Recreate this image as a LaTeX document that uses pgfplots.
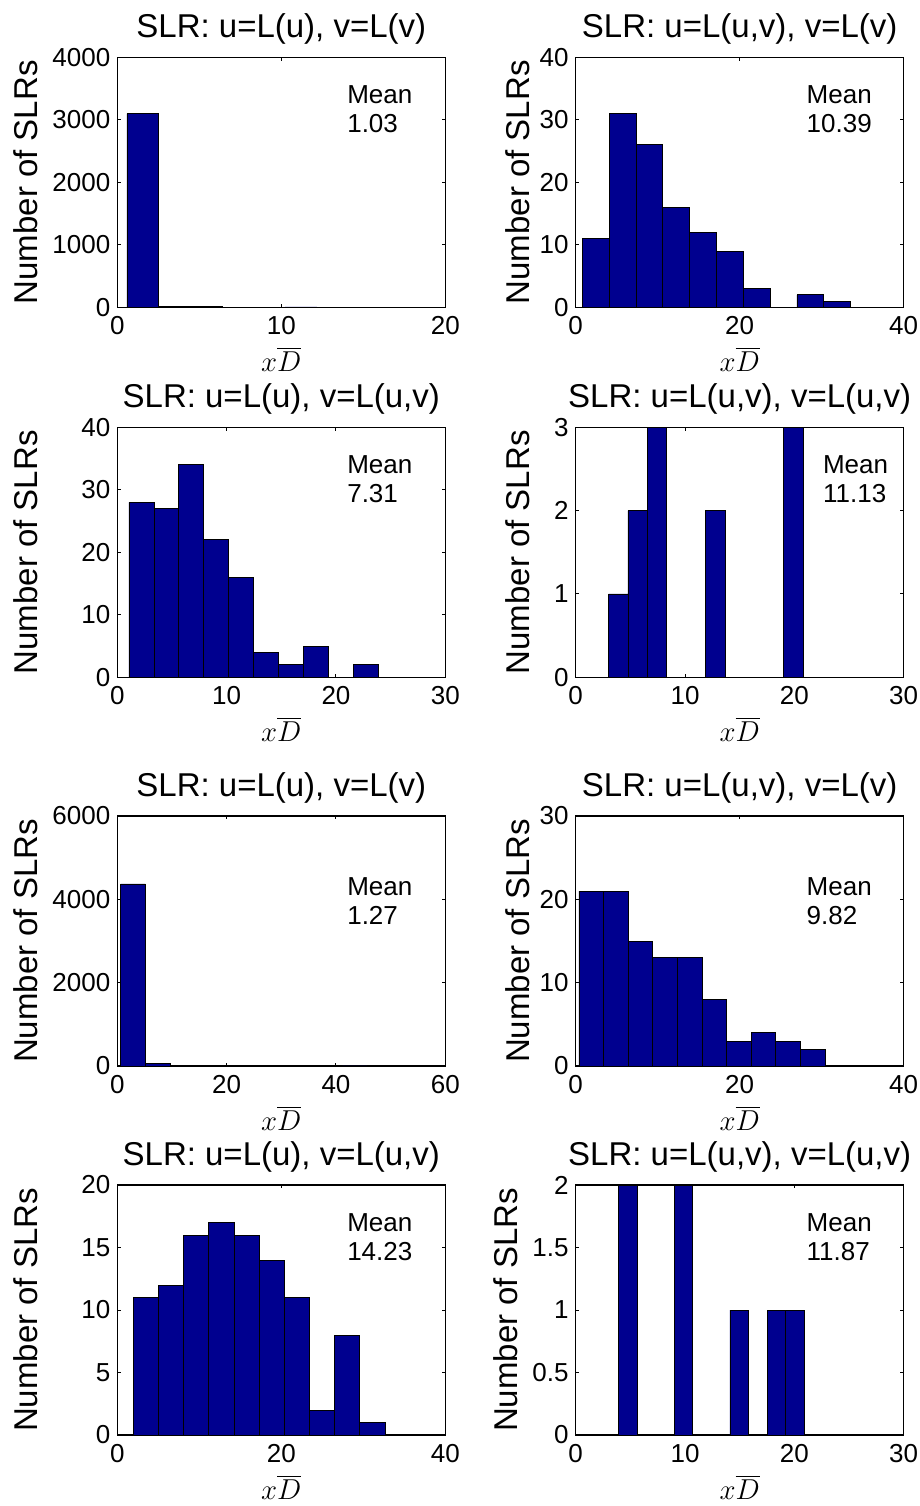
\documentclass[border=0pt]{standalone}
\usepackage{fontspec}
\setmainfont{Liberation Sans}
\usepackage{pgfplots}
\pgfplotsset{compat=1.18}
\definecolor{histblue}{RGB}{0,0,143}

\tikzset{meanbox/.style={anchor=north west, inner sep=0pt, align=left, font=\fontsize{13}{14.5}\selectfont}}

\pgfplotsset{
  slr/.style={
    scale only axis, width=164pt, height=125pt,
    anchor=north west,
    axis line style={line width=0.7pt},
    tick align=inside, major tick length=1.7pt,
    tick style={black, line width=0.5pt},
    scaled ticks=false,
    /pgf/number format/1000 sep={},
    /pgf/number format/assume math mode=true,
    ticklabel style={font=\fontsize{13}{13}\selectfont},
    xticklabel style={yshift=-1pt},
    title style={font=\fontsize{16.5}{16.5}\selectfont, at={(axis description cs:0.5,1)}, anchor=base, yshift=4pt},
    ylabel style={font=\fontsize{16.5}{16.5}\selectfont, anchor=base},
    xlabel style={font=\fontsize{14}{14}\selectfont, at={(axis description cs:0.5,-0.256)}, anchor=base},
    ylabel={Number of SLRs},
    xlabel={$x\overline{D}$},
    ymin=0,
  },
  leftcol/.style={ylabel style={at={(axis description cs:-0.244,0.5)}}},
  rightcol/.style={ylabel style={at={(axis description cs:-0.142,0.5)}}},
  bars/.style={ybar interval, fill=histblue, draw=black, line width=0.4pt},
}

\begin{document}
\begin{tikzpicture}
\useasboundingbox (0,0) rectangle (460pt,-753pt);

% row 1 left
\begin{axis}[slr, leftcol, at={(58.65pt,-28.65pt)},
  title={SLR: u=L(u), v=L(v)},
  xmin=0, xmax=20, ymax=4000, xtick={0,10,20}, ytick={0,1000,2000,3000,4000}]
\addplot[bars] coordinates {(0.59,3100) (2.52,15) (4.45,12) (6.38,2) (8.31,2) (10.24,6) (12.17,1) (14.10,1) (16.03,1) (17.96,1) (19.89,1)};
\node[meanbox] at (rel axis cs:0.70,0.889) {Mean\\1.03};
\end{axis}

% row 1 right
\begin{axis}[slr, rightcol, at={(287.85pt,-28.65pt)},
  title={SLR: u=L(u,v), v=L(v)},
  xmin=0, xmax=40, ymax=40, xtick={0,20,40}, ytick={0,10,20,30,40}]
\addplot[bars] coordinates {(0.82,11) (4.09,31) (7.36,26) (10.63,16) (13.90,12) (17.17,9) (20.44,3) (23.71,0) (26.98,2) (30.25,1) (33.52,1)};
\node[meanbox] at (rel axis cs:0.703,0.889) {Mean\\10.39};
\end{axis}

% row 2 left
\begin{axis}[slr, leftcol, at={(58.65pt,-213.65pt)},
  title={SLR: u=L(u), v=L(u,v)},
  xmin=0, xmax=30, ymax=40, xtick={0,10,20,30}, ytick={0,10,20,30,40}]
\addplot[bars] coordinates {(1.07,28) (3.35,27) (5.63,34) (7.91,22) (10.19,16) (12.47,4) (14.75,2) (17.03,5) (19.31,0) (21.59,2) (23.87,2)};
\node[meanbox] at (rel axis cs:0.70,0.889) {Mean\\7.31};
\end{axis}

% row 2 right
\begin{axis}[slr, rightcol, at={(287.85pt,-213.65pt)},
  title={SLR: u=L(u,v), v=L(u,v)},
  xmin=0, xmax=30, ymax=3, xtick={0,10,20,30}, ytick={0,1,2,3}]
\addplot[bars] coordinates {(3.00,1) (4.78,2) (6.56,3) (8.34,0) (10.12,0) (11.90,2) (13.68,0) (15.46,0) (17.24,0) (19.02,3) (20.80,3)};
\node[meanbox] at (rel axis cs:0.753,0.889) {Mean\\11.13};
\end{axis}

% row 3 left
\begin{axis}[slr, leftcol, at={(58.65pt,-408pt)},
  title={SLR: u=L(u), v=L(v)},
  xmin=0, xmax=60, ymax=6000, xtick={0,20,40,60}, ytick={0,2000,4000,6000}]
\addplot[bars] coordinates {(0.62,4370) (5.13,70) (9.64,20) (14.15,12) (18.66,15) (23.17,5) (27.68,0) (32.19,0) (36.70,0) (41.21,1) (45.72,1)};
\node[meanbox] at (rel axis cs:0.70,0.757) {Mean\\1.27};
\end{axis}

% row 3 right
\begin{axis}[slr, rightcol, at={(287.85pt,-408pt)},
  title={SLR: u=L(u,v), v=L(v)},
  xmin=0, xmax=40, ymax=30, xtick={0,20,40}, ytick={0,10,20,30}]
\addplot[bars] coordinates {(0.4,21) (3.4,21) (6.4,15) (9.4,13) (12.4,13) (15.4,8) (18.4,3) (21.4,4) (24.4,3) (27.4,2) (30.4,2)};
\node[meanbox] at (rel axis cs:0.703,0.757) {Mean\\9.82};
\end{axis}

% row 4 left
\begin{axis}[slr, leftcol, at={(58.65pt,-592.5pt)},
  title={SLR: u=L(u), v=L(u,v)},
  xmin=0, xmax=40, ymax=20, xtick={0,20,40}, ytick={0,5,10,15,20}]
\addplot[bars] coordinates {(1.95,11) (5.02,12) (8.09,16) (11.16,17) (14.23,16) (17.30,14) (20.36,11) (23.43,2) (26.50,8) (29.57,1) (32.64,1)};
\node[meanbox] at (rel axis cs:0.70,0.887) {Mean\\14.23};
\end{axis}

% row 4 right
\begin{axis}[slr, rightcol, at={(287.85pt,-592.5pt)},
  ylabel style={at={(axis description cs:-0.176,0.5)}},
  title={SLR: u=L(u,v), v=L(u,v)},
  xmin=0, xmax=30, ymax=2, xtick={0,10,20,30}, ytick={0,0.5,1,1.5,2}]
\addplot[bars] coordinates {(3.91,2) (5.61,0) (7.31,0) (9.01,2) (10.71,0) (12.41,0) (14.11,1) (15.81,0) (17.51,1) (19.21,1) (20.91,1)};
\node[meanbox] at (rel axis cs:0.703,0.887) {Mean\\11.87};
\end{axis}
\end{tikzpicture}
\end{document}
